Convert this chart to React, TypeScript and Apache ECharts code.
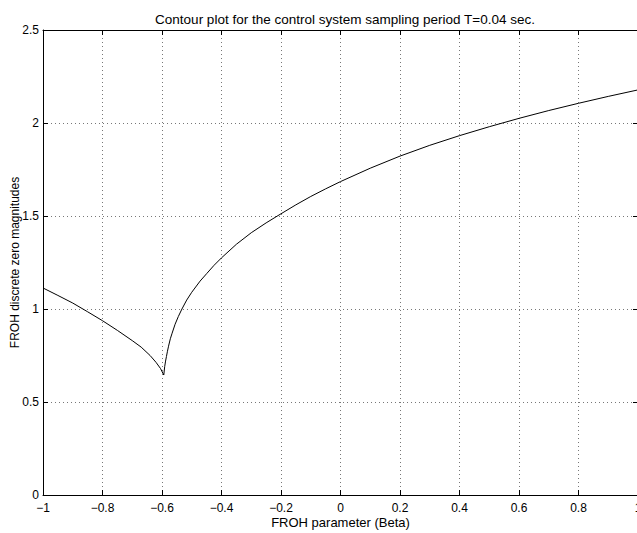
import React, { useEffect, useRef } from "react";
import * as echarts from "echarts";

const titleText = "Contour plot for the control system sampling period T=0.04 sec.";
const xName = "FROH parameter (Beta)";
const yName = "FROH discrete zero magnitudes";

const xTickValues = [-1, -0.8, -0.6, -0.4, -0.2, 0, 0.2, 0.4, 0.6, 0.8, 1];
const xTickLabels = ["\u22121", "\u22120.8", "\u22120.6", "\u22120.4", "\u22120.2", "0", "0.2", "0.4", "0.6", "0.8", "1"];
const yTickValues = [0, 0.5, 1, 1.5, 2, 2.5];
const yTickLabels = ["0", "0.5", "1", "1.5", "2", "2.5"];

const betaValues = [
  -1, -0.95, -0.9, -0.85, -0.8, -0.75, -0.7, -0.67, -0.64, -0.62, -0.605, -0.594,
  -0.591, -0.588, -0.585, -0.582, -0.578, -0.572, -0.566, -0.556, -0.545, -0.533, -0.517, -0.5, -0.472, -0.45, -0.425, -0.4,
  -0.35, -0.3, -0.25, -0.2, -0.15, -0.1, -0.05, 0, 0.1, 0.2, 0.3, 0.4, 0.5, 0.6, 0.7, 0.8, 0.9, 1,
];
const magnitudeValues = [
  1.113, 1.073, 1.032, 0.985, 0.937, 0.885, 0.83, 0.795, 0.75, 0.713, 0.68, 0.645,
  0.69, 0.72, 0.745, 0.77, 0.8, 0.84, 0.87, 0.918, 0.96, 1.0, 1.048, 1.09, 1.15, 1.19, 1.235, 1.275,
  1.348, 1.41, 1.463, 1.512, 1.56, 1.605, 1.646, 1.685, 1.757, 1.822, 1.88, 1.932, 1.98, 2.025, 2.067, 2.106, 2.143, 2.178,
];

const FONT = "Liberation Sans, Arial, Helvetica, sans-serif";

export default function App() {
  const ref = useRef<HTMLDivElement>(null);
  useEffect(() => {
    if (!ref.current) return;
    const chart = echarts.init(ref.current, undefined, { renderer: "svg" });
    const xLabel = (v: number) => {
      const i = xTickValues.findIndex((t) => Math.abs(t - v) < 1e-6);
      return i >= 0 ? xTickLabels[i] : "";
    };
    const yLabel = (v: number) => {
      const i = yTickValues.findIndex((t) => Math.abs(t - v) < 1e-6);
      return i >= 0 ? yTickLabels[i] : "";
    };
    const gridLine = { show: true, lineStyle: { color: "#777", type: [1, 3] as any, width: 1 } };
    const frameLine = { show: true, onZero: false, lineStyle: { color: "#000", width: 1 } };
    const innerTick = { show: true, inside: true, length: 5, lineStyle: { color: "#000" } };
    chart.setOption({
      animation: false,
      backgroundColor: "#fff",
      title: {
        text: titleText,
        left: 340,
        top: 7,
        textAlign: "center",
        textStyle: { fontFamily: FONT, fontSize: 13.5, fontWeight: "normal", color: "#000" },
      },
      grid: { left: 43, top: 30, width: 595, height: 465, containLabel: false, outerBoundsMode: "none" },
      xAxis: [
        {
          type: "value",
          min: -1,
          max: 1,
          interval: 0.2,
          position: "bottom",
          name: xName,
          nameLocation: "middle",
          nameGap: 21,
          nameMoveOverlap: false,
          nameTextStyle: { fontFamily: FONT, fontSize: 13, color: "#000" },
          axisLine: frameLine,
          axisTick: innerTick,
          axisLabel: { formatter: xLabel, fontFamily: FONT, fontSize: 12, color: "#000", margin: 7, showMaxLabel: true, showMinLabel: true },
          splitLine: gridLine,
        },
        {
          type: "value",
          min: -1,
          max: 1,
          interval: 0.2,
          position: "top",
          axisLine: frameLine,
          axisTick: innerTick,
          axisLabel: { show: false },
          splitLine: { show: false },
        },
      ],
      yAxis: [
        {
          type: "value",
          min: 0,
          max: 2.5,
          interval: 0.5,
          position: "left",
          name: yName,
          nameLocation: "middle",
          nameGap: 22,
          nameMoveOverlap: false,
          nameTextStyle: { fontFamily: FONT, fontSize: 12, color: "#000" },
          axisLine: frameLine,
          axisTick: innerTick,
          axisLabel: { formatter: yLabel, fontFamily: FONT, fontSize: 12, color: "#000", margin: 4 },
          splitLine: gridLine,
        },
        {
          type: "value",
          min: 0,
          max: 2.5,
          interval: 0.5,
          position: "right",
          axisLine: frameLine,
          axisTick: innerTick,
          axisLabel: { show: false },
          splitLine: { show: false },
        },
      ],
      series: [
        {
          type: "line",
          data: betaValues.map((b, i) => [b, magnitudeValues[i]]),
          showSymbol: false,
          smooth: false,
          lineStyle: { color: "#000", width: 1 },
          clip: true,
        },
      ],
    });
    return () => chart.dispose();
  }, []);
  return <div ref={ref} style={{ position: "fixed", left: 0, top: 0, width: 637, height: 533 }} />;
}
